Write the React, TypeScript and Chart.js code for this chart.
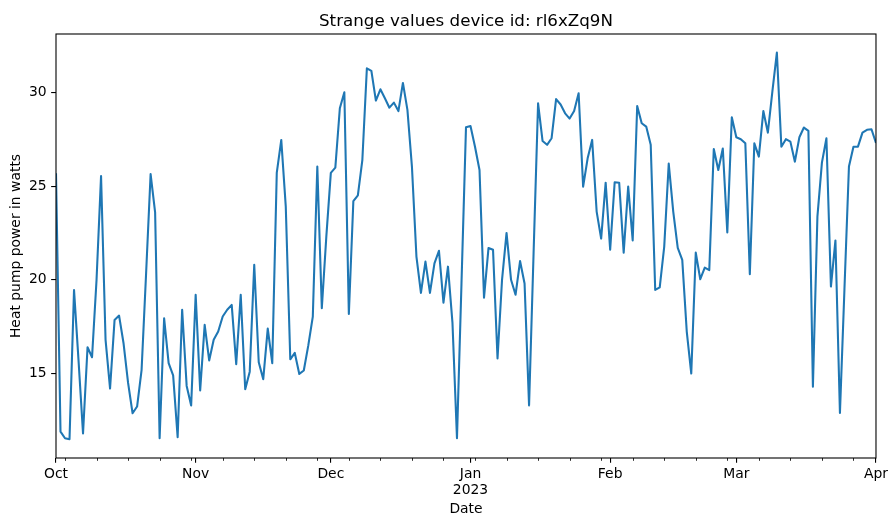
import React, { useEffect, useRef } from "react";
import { Chart, registerables } from "chart.js";

Chart.register(...registerables);

const TITLE = "Strange values device id: rl6xZq9N";
const X_LABEL = "Date";
const Y_LABEL = "Heat pump power in watts";

const START_DATE = "2022-10-01";

// daily heat pump power, 2022-10-01 .. 2023-04-01
const power: number[] = [
  25.68, 11.9, 11.55, 11.5, 19.46, 15.7, 11.8, 16.4, 15.87, 20.0,
  25.54, 16.8, 14.2, 17.86, 18.09, 16.6, 14.5, 12.88, 13.24, 15.2,
  20.35, 25.64, 23.6, 11.55, 17.95, 15.55, 14.9, 11.6, 18.4, 14.34,
  13.3, 19.2, 14.1, 17.6, 15.7, 16.8, 17.24, 18.04, 18.4, 18.66,
  15.5, 19.2, 14.16, 15.1, 20.8, 15.6, 14.7, 17.4, 15.55, 25.7,
  27.46, 23.9, 15.76, 16.1, 14.98, 15.16, 16.5, 18.04, 26.04, 18.48,
  22.3, 25.7, 25.98, 29.15, 30.0, 18.18, 24.2, 24.5, 26.4, 31.28,
  31.14, 29.56, 30.16, 29.68, 29.18, 29.45, 29.0, 30.5, 29.06, 26.04,
  21.24, 19.3, 20.97, 19.3, 20.88, 21.55, 18.78, 20.7, 17.7, 11.55,
  19.8, 28.13, 28.2, 27.1, 25.86, 19.05, 21.7, 21.6, 15.8, 20.0,
  22.5, 20.0, 19.2, 21.0, 19.8, 13.3, 21.4, 29.41, 27.4, 27.2,
  27.55, 29.64, 29.35, 28.88, 28.6, 29.0, 29.95, 24.97, 26.48, 27.46,
  23.64, 22.2, 25.18, 21.6, 25.2, 25.18, 21.45, 24.97, 22.1, 29.27,
  28.35, 28.17, 27.2, 19.46, 19.6, 21.77, 26.2, 23.64, 21.7, 21.06,
  17.24, 15.0, 21.45, 20.03, 20.65, 20.52, 26.98, 25.86, 27.0, 22.53,
  28.67, 27.6, 27.5, 27.28, 20.3, 27.28, 26.57, 29.0, 27.85, 30.04,
  32.12, 27.1, 27.5, 27.37, 26.3, 27.6, 28.12, 27.94, 14.3, 23.37,
  26.25, 27.55, 19.64, 22.1, 12.9, 19.5, 26.04, 27.1, 27.1, 27.85,
  28.0, 28.03, 27.3,
];

const monthTickDates = [
  "2022-10-01", "2022-11-01", "2022-12-01", "2023-01-01",
  "2023-02-01", "2023-03-01", "2023-04-01",
];
const monthTickLabels: string[][] = [
  ["Oct"], ["Nov"], ["Dec"], ["Jan", "2023"], ["Feb"], ["Mar"], ["Apr"],
];
const yTicks = [15, 20, 25, 30];

const DAY_MS = 86400000;
const startMs = Date.parse(START_DATE + "T00:00:00Z");
const dayOffset = (d: string) => Math.round((Date.parse(d + "T00:00:00Z") - startMs) / DAY_MS);

const FONT = "'DejaVu Sans', sans-serif";
const LINE_COLOR = "#1f77b4";

export default function App() {
  const ref = useRef<HTMLCanvasElement | null>(null);

  useEffect(() => {
    if (!ref.current) return;
    const points = power.map((v, i) => ({ x: i, y: v }));
    const majorVals = monthTickDates.map(dayOffset);
    const lastDay = power.length - 1;
    // weekly minor ticks on Mondays
    const minorVals: number[] = [];
    for (let i = 0; i <= lastDay; i++) {
      const wd = new Date(startMs + i * DAY_MS).getUTCDay();
      if (wd === 1 && !majorVals.includes(i)) minorVals.push(i);
    }

    const decor = {
      id: "decor",
      afterDraw(chart: any) {
        const { ctx, chartArea } = chart;
        const xs = chart.scales.x;
        ctx.save();
        // minor ticks
        ctx.strokeStyle = "#000";
        ctx.lineWidth = 0.83;
        for (const v of minorVals) {
          const px = Math.round(xs.getPixelForValue(v)) + 0.5;
          ctx.beginPath();
          ctx.moveTo(px, chartArea.bottom);
          ctx.lineTo(px, chartArea.bottom + 2.8);
          ctx.stroke();
        }
        // frame
        ctx.lineWidth = 1.1;
        ctx.strokeRect(chartArea.left, chartArea.top, chartArea.right - chartArea.left, chartArea.bottom - chartArea.top);
        // title
        ctx.fillStyle = "#000";
        ctx.font = `16.7px ${FONT}`;
        ctx.textAlign = "center";
        ctx.textBaseline = "alphabetic";
        ctx.fillText(TITLE, (chartArea.left + chartArea.right) / 2, 26);
        ctx.restore();
      },
    };

    const chart = new Chart(ref.current, {
      type: "line",
      data: {
        datasets: [
          {
            data: points,
            borderColor: LINE_COLOR,
            backgroundColor: LINE_COLOR,
            borderWidth: 2.08,
            pointRadius: 0,
            tension: 0,
            borderJoinStyle: "round",
            fill: false,
          },
        ],
      },
      options: {
        animation: false,
        responsive: false,
        events: [],
        layout: { padding: { top: 34, right: 15, left: 0, bottom: 0 } },
        plugins: {
          legend: { display: false },
          title: { display: false },
          tooltip: { enabled: false },
        },
        scales: {
          x: {
            type: "linear",
            min: 0,
            max: lastDay,
            afterFit: (s: any) => { s.height = 57; },
            afterBuildTicks: (s: any) => { s.ticks = majorVals.map((v) => ({ value: v })); },
            border: { display: false },
            grid: {
              display: true,
              drawOnChartArea: false,
              drawTicks: true,
              tickLength: 4.86,
              color: "#000",
              lineWidth: 1.1,
            },
            ticks: {
              autoSkip: false,
              maxRotation: 0,
              minRotation: 0,
              padding: 3,
              color: "#000",
              font: { family: FONT, size: 13.9 },
              callback: (v: any) => {
                const idx = majorVals.indexOf(Number(v));
                return idx >= 0 ? monthTickLabels[idx] : "";
              },
            },
            title: {
              display: true,
              text: X_LABEL,
              color: "#000",
              font: { family: FONT, size: 13.9 },
              padding: { top: 0, bottom: -2.5 },
            },
          },
          y: {
            type: "linear",
            min: 10.495,
            max: 33.11,
            afterFit: (s: any) => { s.width = 56; },
            afterBuildTicks: (s: any) => { s.ticks = yTicks.map((v) => ({ value: v })); },
            border: { display: false },
            grid: {
              display: true,
              drawOnChartArea: false,
              drawTicks: true,
              tickLength: 4.86,
              color: "#000",
              lineWidth: 1.1,
            },
            ticks: {
              padding: 4.5,
              color: "#000",
              font: { family: FONT, size: 13.9 },
              callback: (v: any) => String(v),
            },
            title: {
              display: true,
              text: Y_LABEL,
              color: "#000",
              font: { family: FONT, size: 13.9 },
              padding: { top: 8.5, bottom: 0 },
            },
          },
        },
      },
      plugins: [decor],
    });
    return () => chart.destroy();
  }, []);

  return (
    <div style={{ position: "absolute", left: 0, top: 0, width: 891, height: 515, background: "#fff" }}>
      <canvas ref={ref} width={891} height={515} style={{ display: "block", width: 891, height: 515 }} />
    </div>
  );
}
